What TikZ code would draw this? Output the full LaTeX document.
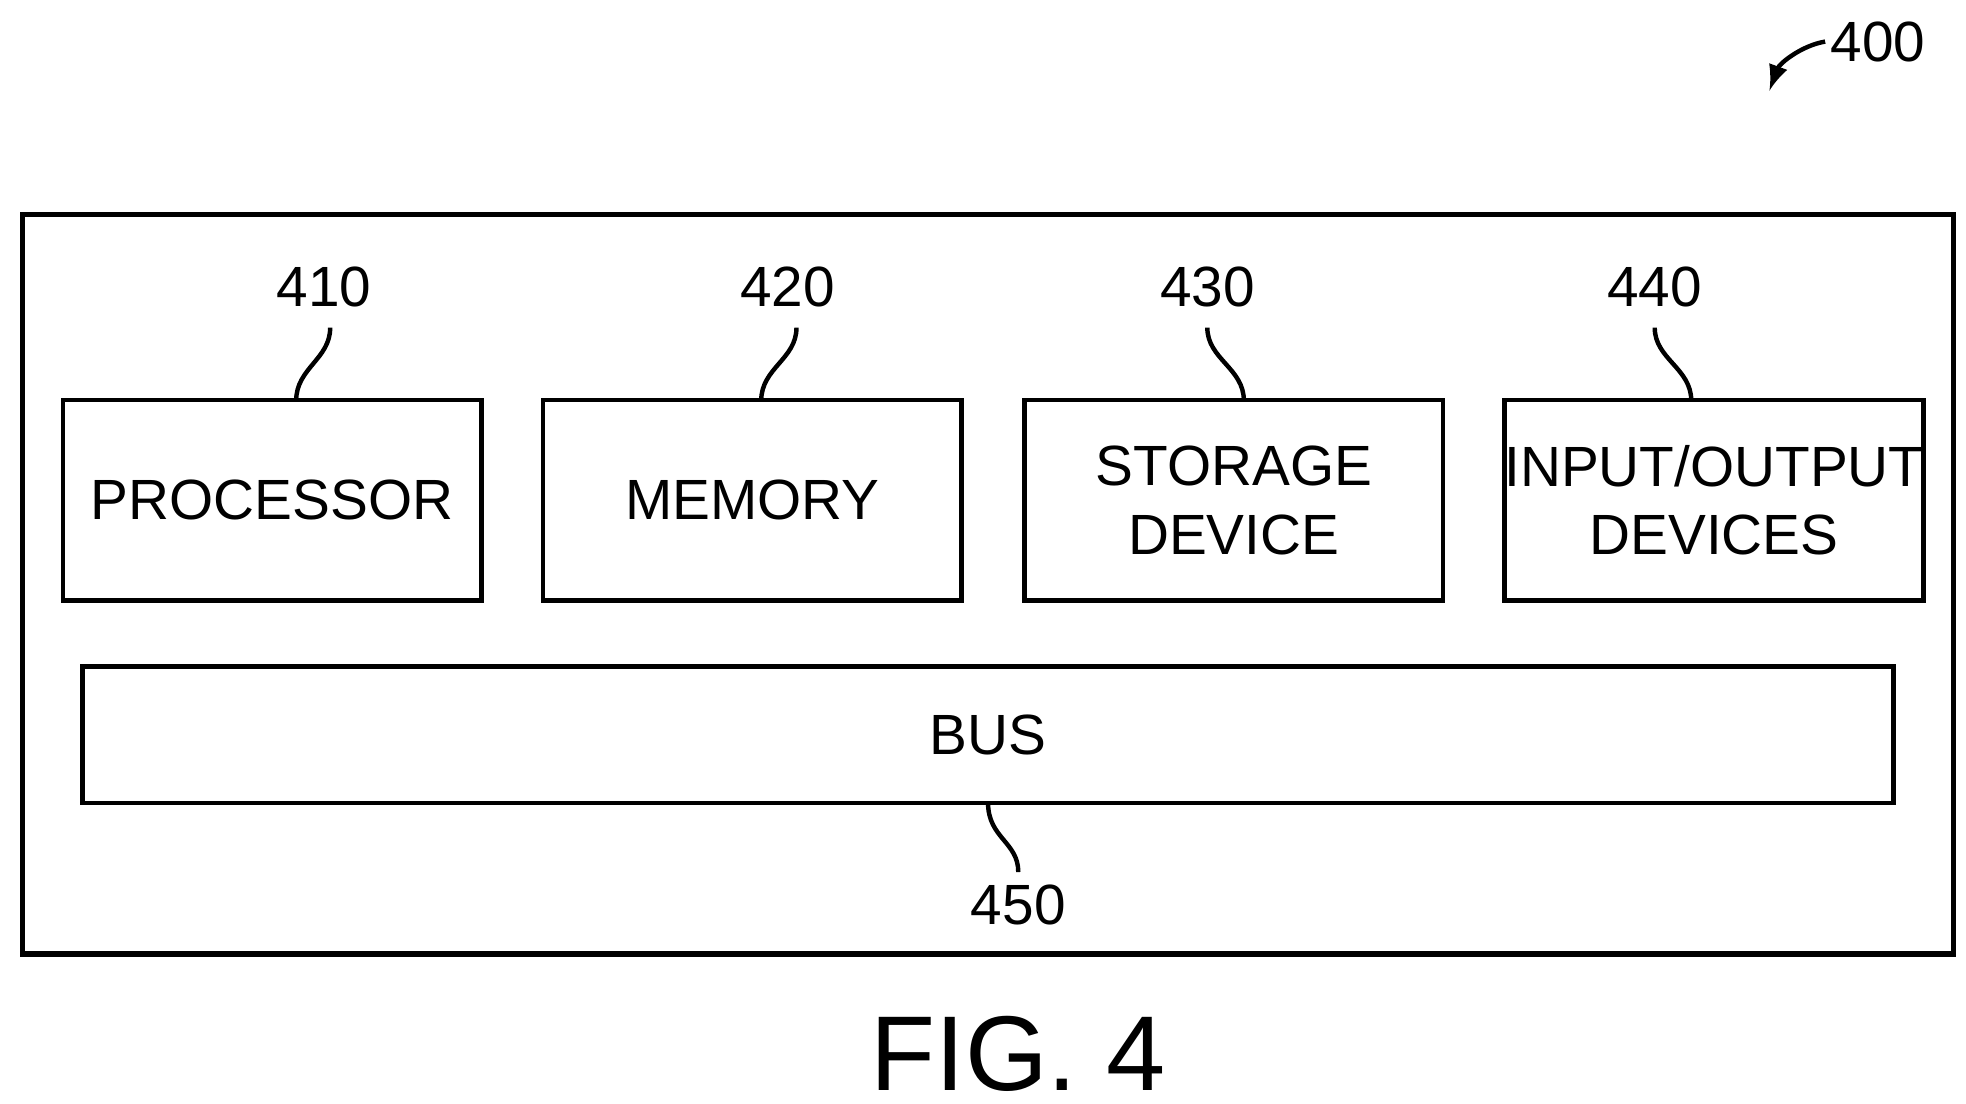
\documentclass[tikz,border=0pt]{standalone}
\usepackage{fontspec}
\setmainfont{Liberation Sans}
\begin{document}
\begin{tikzpicture}[x=0.01cm,y=-0.01cm,
  blk/.style={draw,line width=1pt,inner sep=0pt,minimum width=3.32cm,minimum height=1.59cm,
    font=\fontsize{12.8}{15.5}\selectfont,align=center},
  num/.style={font=\fontsize{12.8}{15.5}\selectfont,inner sep=1pt},
  lead/.style={line width=1pt}]
\useasboundingbox (0,0) rectangle (1560,876);
\draw[line width=1.2pt] (18,170) rectangle (1550,757);
\node[blk] (proc) at (216,397) {PROCESSOR};
\node[blk] (mem) at (597,397) {MEMORY};
\node[blk] (stor) at (979,397) {STORAGE\\DEVICE};
\node[blk] (io) at (1360,397) {INPUT/OUTPUT\\DEVICES};
\node[blk,minimum width=14.36cm,minimum height=1.08cm] (bus) at (784,583) {BUS};
% reference numerals
\node[num] (l410) at (257,228) {410};
\node[num] (l420) at (625,228) {420};
\node[num] (l430) at (958,228) {430};
\node[num] (l440) at (1313,228) {440};
\node[num] (l450) at (808,718) {450};
\node[num] (l400) at (1490,33) {400};
\node[font=\fontsize{24}{29}\selectfont] (fig) at (808,836) {FIG. 4};
\coordinate (c410) at (235,318);
\coordinate (c420) at (604,318);
\coordinate (c430) at (987,318);
\coordinate (c440) at (1342,318);
\coordinate (c450) at (784,637);
\coordinate (c400) at (1404,72);
\draw[lead] (262,260) .. controls (262,285) and (235,292) .. (c410);
\draw[lead] (632,260) .. controls (632,285) and (604,292) .. (c420);
\draw[lead] (958,260) .. controls (958,285) and (987,292) .. (c430);
\draw[lead] (1313,260) .. controls (1313,285) and (1342,292) .. (c440);
\draw[lead] (c450) .. controls (784,665) and (808,668) .. (808,692);
\draw[lead,-latex] (l400.west) .. controls (1430,36) and (1412,50) .. (c400);
\end{tikzpicture}
\end{document}
